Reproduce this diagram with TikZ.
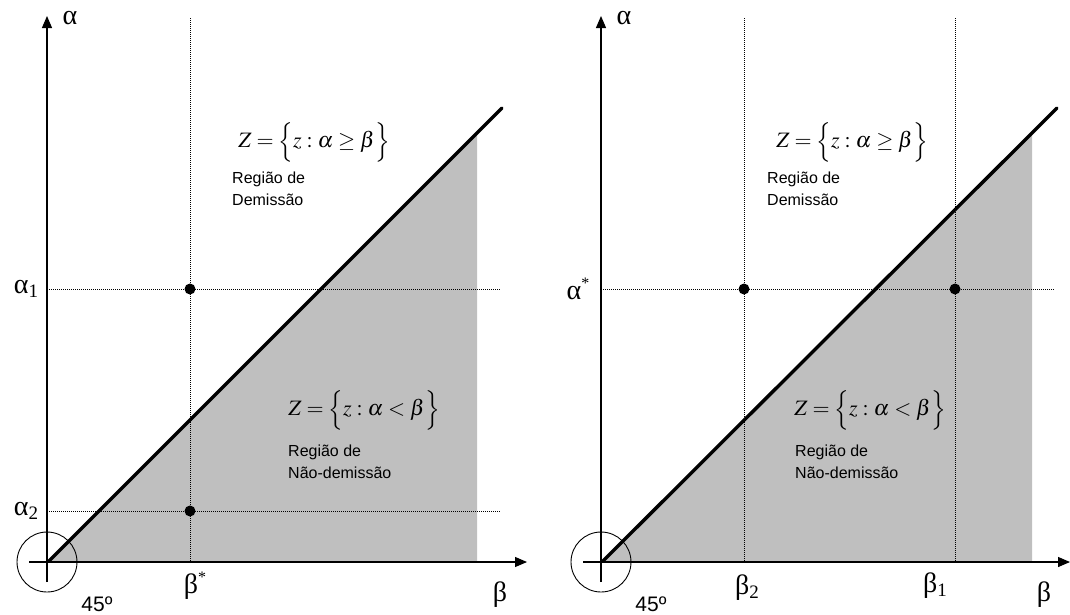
\documentclass[tikz,border=0pt]{standalone}
\usepackage{mathptmx}
\usepackage{fontspec}
\setmainfont{Liberation Sans}
\newfontfamily\grk{Liberation Serif}
\usetikzlibrary{arrows.meta}
\newcommand{\subl}[1]{\raisebox{-0.3ex}{\fontsize{19}{19}\selectfont #1}}
\newcommand{\supl}{\raisebox{0.85ex}{\fontsize{16}{16}\selectfont *}}
\tikzset{
  axis/.style={line width=1.2pt,-{Triangle[length=12pt,width=10pt]}},
  guide/.style={line width=0.6pt,dash pattern=on 1pt off 1pt},
  diag/.style={line width=3.4pt,line cap=round},
  shade/.style={fill=gray!50!white,draw=none},
  dot/.style={circle,fill=black,inner sep=0pt,minimum size=11pt},
  grklbl/.style={font=\grk\fontsize{28}{30}\selectfont,inner sep=0pt},
  formula/.style={font=\fontsize{22}{26}\selectfont,inner sep=0pt},
  region/.style={font=\fontsize{16}{22}\selectfont,align=left,inner sep=0pt,anchor=west},
  deg/.style={font=\fontsize{21}{24}\selectfont,inner sep=0pt},
  orbit/.style={line width=0.9pt}
}
\begin{document}
\begin{tikzpicture}[x=1pt,y=-1pt]
\useasboundingbox (0,0) rectangle (1070,614);
% ---------------- left panel ----------------
\coordinate (O1) at (47,562);
\coordinate (Ytop1) at (47,16);
\coordinate (Ybot1) at (47,582);
\coordinate (Xl1) at (29,562);
\coordinate (Xr1) at (527,562);
\coordinate (D1) at (502,108);
\coordinate (G1t) at (477,134);
\coordinate (G1b) at (477,562);
\fill[shade] (49,562) -- (G1t) -- (G1b) -- cycle;
\coordinate (V1t) at (190,18);
\coordinate (V1b) at (190,562);
\coordinate (H1a) at (47,289);
\coordinate (H1ae) at (500,289);
\coordinate (H1b) at (47,511);
\coordinate (H1be) at (500,511);
\draw[guide] (V1t) -- (V1b);
\draw[guide] (H1a) -- (H1ae);
\draw[guide] (H1b) -- (H1be);
\draw[line width=1.2pt] (Ybot1) -- (O1);
\draw[axis] (O1) -- (Ytop1);
\draw[axis] (Xl1) -- (Xr1);
\draw[orbit] (O1) circle (30);
\draw[diag] (49,561) -- (D1);
\node[dot] (p1a) at (190,289) {};
\node[dot] (p1b) at (190,511) {};
\node[grklbl] (la1) at (70,18) {α};
\node[grklbl] (la11) at (26,289) {α\subl{1}};
\node[grklbl] (la12) at (26,511) {α\subl{2}};
\node[grklbl] (lbs1) at (195,586) {β\supl};
\node[grklbl] (lb1) at (500,595) {β};
\node[deg] (deg1) at (97,604) {45º};
\node[formula] (f1a) at (314,142) {$Z=\Bigl\{z:\alpha\geq\beta\Bigr\}$};
\node[region] (r1a) at (232,189) {Região de\\Demissão};
\node[formula] (f1b) at (364,410) {$Z=\Bigl\{z:\alpha<\beta\Bigr\}$};
\node[region] (r1b) at (288,462) {Região de\\Não-demissão};
% ---------------- right panel ----------------
\coordinate (O2) at (601,562);
\coordinate (Ytop2) at (601,16);
\coordinate (Ybot2) at (601,582);
\coordinate (Xl2) at (583,562);
\coordinate (Xr2) at (1070,562);
\coordinate (D2) at (1057,108);
\coordinate (G2t) at (1032,133);
\coordinate (G2b) at (1032,562);
\fill[shade] (603,562) -- (G2t) -- (G2b) -- cycle;
\coordinate (V2at) at (744,18);
\coordinate (V2ab) at (744,562);
\coordinate (V2bt) at (955,18);
\coordinate (V2bb) at (955,562);
\coordinate (H2) at (601,289);
\coordinate (H2e) at (1055,289);
\draw[guide] (V2at) -- (V2ab);
\draw[guide] (V2bt) -- (V2bb);
\draw[guide] (H2) -- (H2e);
\draw[line width=1.2pt] (Ybot2) -- (O2);
\draw[axis] (O2) -- (Ytop2);
\draw[axis] (Xl2) -- (Xr2);
\draw[orbit] (O2) circle (30);
\draw[diag] (603,561) -- (D2);
\node[dot] (p2a) at (744,289) {};
\node[dot] (p2b) at (955,289) {};
\node[grklbl] (la2) at (624,18) {α};
\node[grklbl] (las2) at (578,289) {α\supl};
\node[grklbl] (lb22) at (747,588) {β\subl{2}};
\node[grklbl] (lb21) at (935,586) {β\subl{1}};
\node[grklbl] (lb2) at (1044,595) {β};
\node[deg] (deg2) at (651,604) {45º};
\node[formula] (f2a) at (852,142) {$Z=\Bigl\{z:\alpha\geq\beta\Bigr\}$};
\node[region] (r2a) at (767,189) {Região de\\Demissão};
\node[formula] (f2b) at (870,410) {$Z=\Bigl\{z:\alpha<\beta\Bigr\}$};
\node[region] (r2b) at (795,462) {Região de\\Não-demissão};
\end{tikzpicture}
\end{document}
